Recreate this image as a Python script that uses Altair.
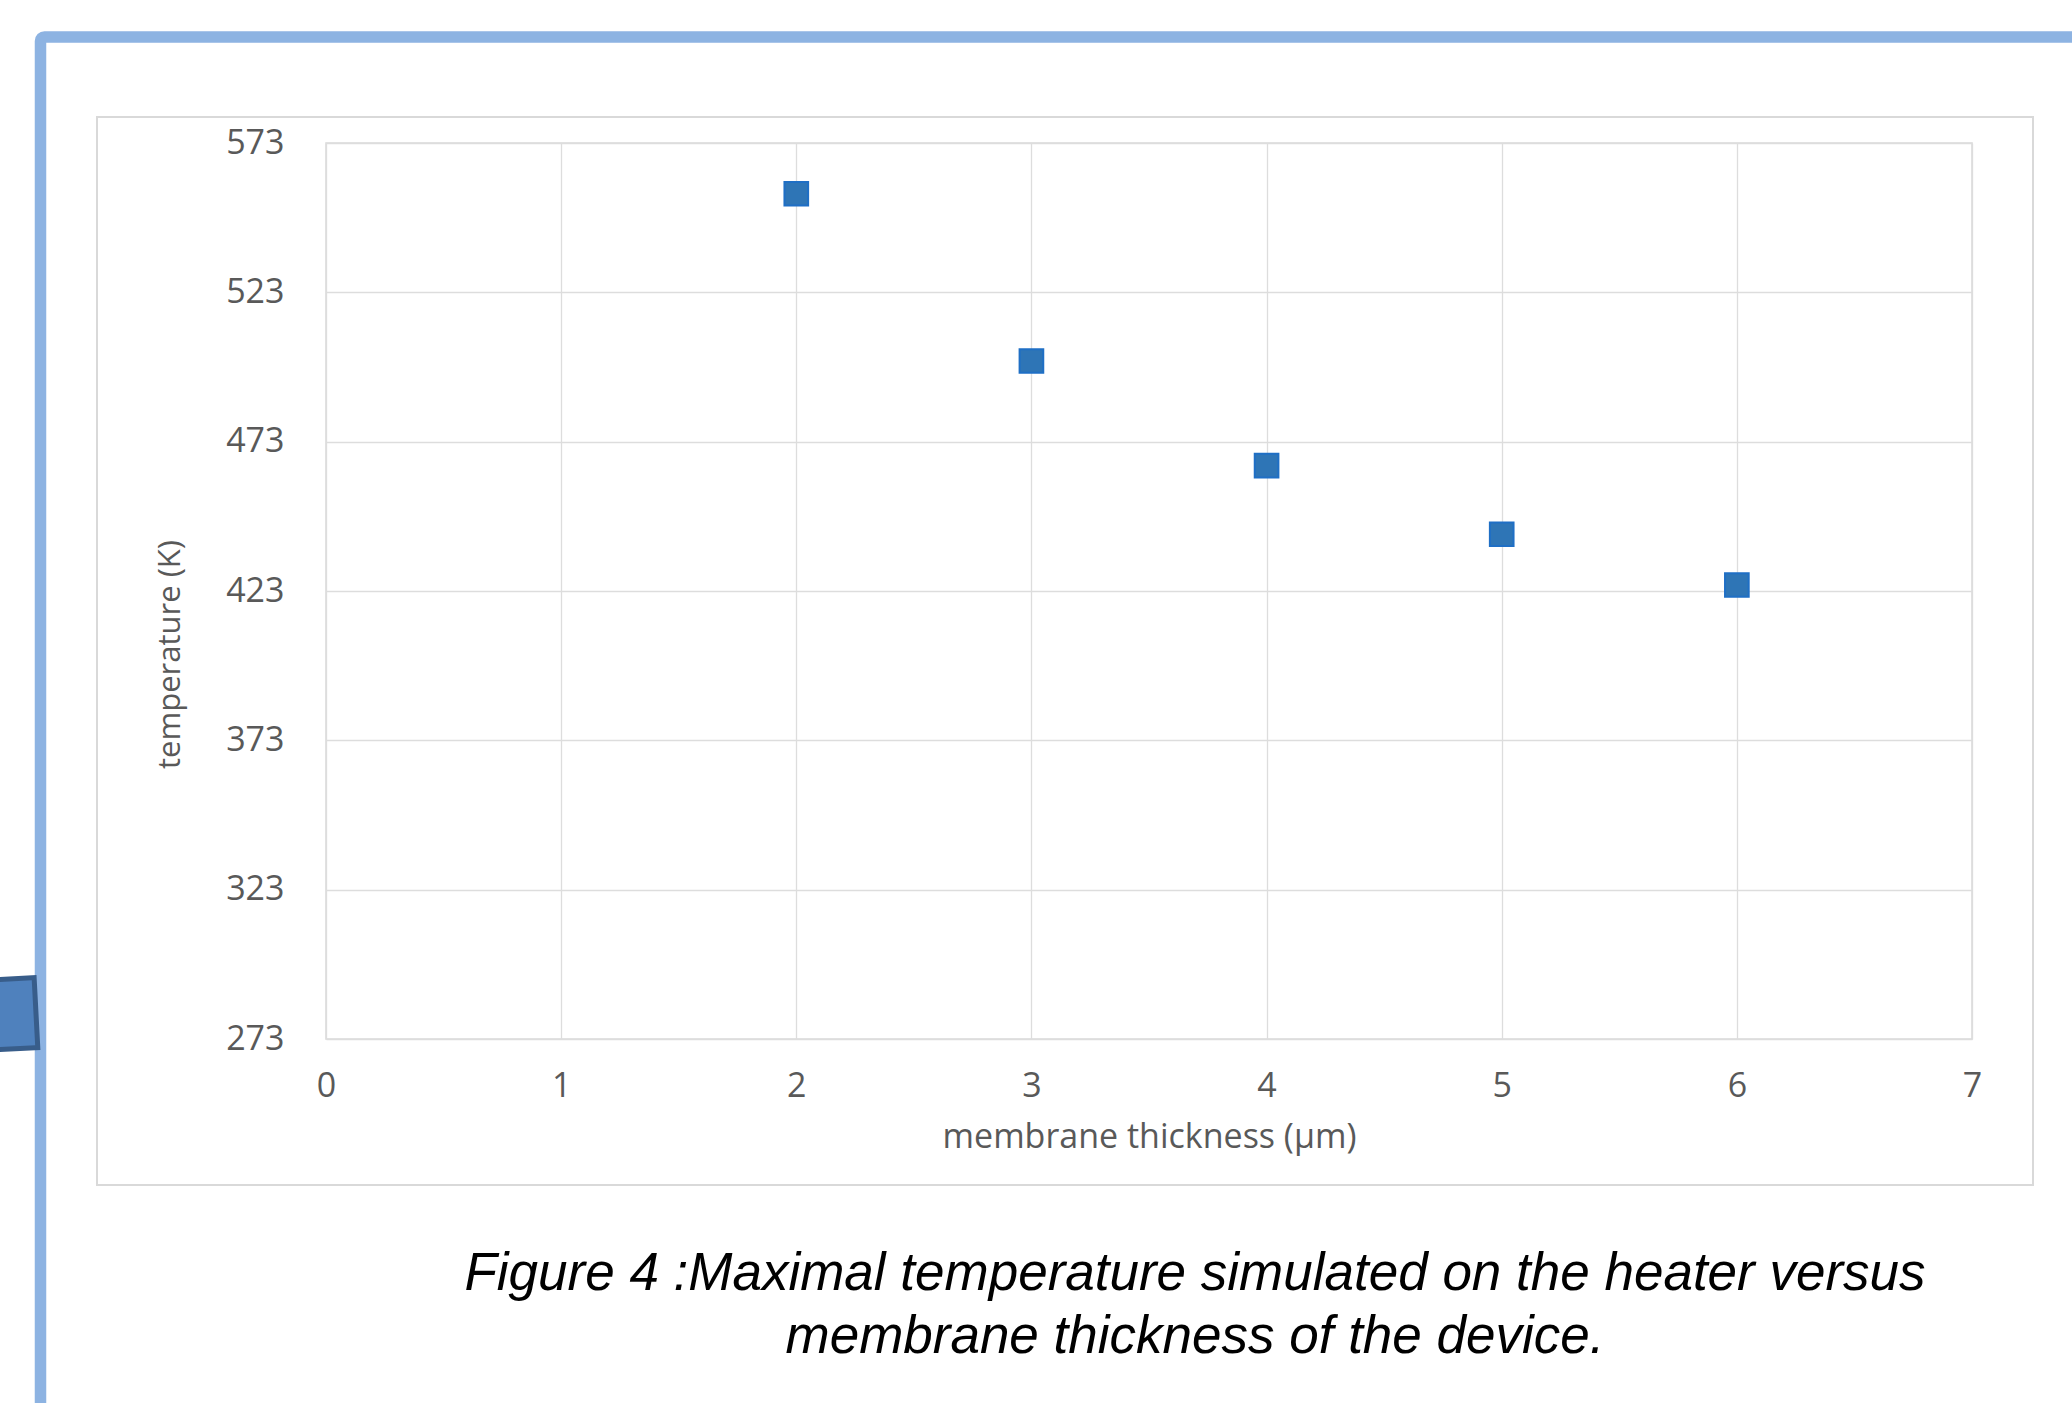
import altair as alt
import pandas as pd

# ---- data ----
thickness = [2, 3, 4, 5, 6]
temperature = [556, 500, 465, 442, 425]
x_ticks = [0, 1, 2, 3, 4, 5, 6, 7]
y_ticks = [273, 323, 373, 423, 473, 523, 573]
x_title = "membrane thickness (µm)"
y_title = "temperature (K)"
caption_lines = [
    "Figure 4 :Maximal temperature simulated on the heater versus",
    "membrane thickness of the device.",
]

df = pd.DataFrame({"thickness": thickness, "temperature": temperature})
one = pd.DataFrame({"k": [0]})

W, H = 1646, 896
GRID = "#DDDDDD"
LABEL = "#595959"

# decorative slide frame (blue) and chart box (grey)
frame = alt.Chart(one).mark_rect(
    fillOpacity=0, stroke="#8DB3E2", strokeWidth=11.5, cornerRadius=4
).encode(x=alt.value(-285.5), x2=alt.value(1800), y=alt.value(-106), y2=alt.value(1330))

box = alt.Chart(one).mark_rect(
    fillOpacity=0, stroke="#D9D9D9", strokeWidth=2
).encode(x=alt.value(-229), x2=alt.value(1707), y=alt.value(-26), y2=alt.value(1042))

deco = alt.Chart(one).mark_square(
    size=4900, fill="#4F81BD", stroke="#385D8A", strokeWidth=5, opacity=1, angle=357
).encode(x=alt.value(-325), y=alt.value(871.5))

points = alt.Chart(df).mark_square(
    size=560, fill="#2E75B6", stroke="#1F6FC5", strokeWidth=2, opacity=1
).encode(
    x=alt.X(
        "thickness:Q",
        scale=alt.Scale(domain=[0, 7], nice=False, zero=False),
        axis=alt.Axis(
            values=x_ticks, format="d", title=x_title,
            labelFont="Open Sans", labelFontSize=34, labelColor=LABEL,
            labelPadding=30, ticks=False, tickSize=0, domain=False,
            grid=True, gridColor=GRID, gridWidth=1.3,
            labelFlush=False, labelOverlap=False,
            titleFont="Open Sans", titleFontSize=34, titleColor=LABEL,
            titleFontWeight="normal", titleBaseline="alphabetic",
            titleAlign="center", titleX=W / 2, titleY=108,
        ),
    ),
    y=alt.Y(
        "temperature:Q",
        scale=alt.Scale(domain=[273, 573], nice=False, zero=False),
        axis=alt.Axis(
            values=y_ticks, format="d", title=y_title,
            labelFont="Open Sans", labelFontSize=34, labelColor=LABEL,
            labelPadding=42, ticks=False, tickSize=0, domain=False,
            grid=True, gridColor=GRID, gridWidth=1.5,
            labelFlush=False, labelOverlap=False,
            titleFont="Open Sans", titleFontSize=31, titleColor=LABEL,
            titleFontWeight="normal", titleBaseline="alphabetic",
            titleAlign="center", titleAngle=270, titleX=-147, titleY=511,
        ),
    ),
)

caption = alt.Chart(one).mark_text(
    font="Liberation Sans", fontStyle="italic", fontSize=53, color="#000000",
    align="center", baseline="alphabetic", lineHeight=63,
).encode(x=alt.value(869), y=alt.value(1147), text=alt.value(caption_lines))

chart = alt.layer(frame, box, deco, points, caption).properties(
    width=W, height=H,
    autosize=alt.AutoSizeParams(type="none"),
    padding={"left": 326, "top": 143, "right": 100, "bottom": 364},
    background="white",
).configure_view(stroke="#D9D9D9", strokeWidth=1.5)

chart.save("out.html", embed_options={"renderer": "svg", "actions": False})
